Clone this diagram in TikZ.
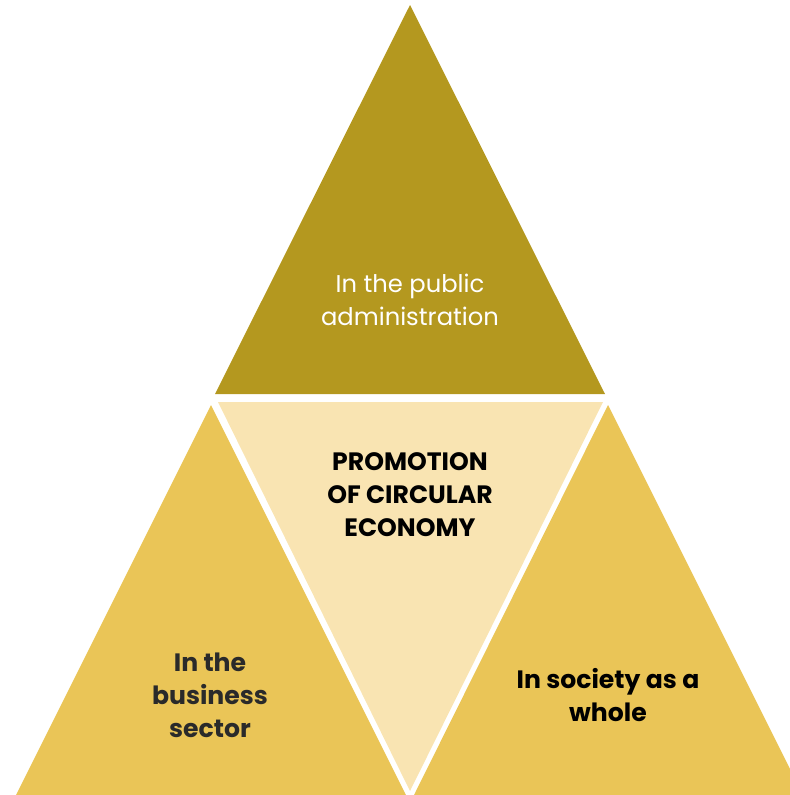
\documentclass[tikz,border=0pt]{standalone}
\usepackage{fontspec}
\setmainfont{Poppins}
\definecolor{darkgold}{HTML}{B4981F}
\definecolor{midgold}{HTML}{EAC557}
\definecolor{palegold}{HTML}{F9E4B2}
\definecolor{inkgrey}{HTML}{2A2A2A}
\begin{document}
\begin{tikzpicture}[
       x=0.02cm, y=-0.02cm,
       tri/.style={draw=none},
       lightlabel/.style={align=center, text=white, font=\fontsize{13.8}{18.8}\selectfont},
       darklabel/.style={align=center, text=black, font=\fontsize{14.3}{18.8}\selectfont\bfseries}
   ]
   \useasboundingbox (0,0) rectangle (790,795);
   \clip (0,0) rectangle (790,795);
   % corners of the four triangles
   \coordinate (top apex) at (410,5);
   \coordinate (top left) at (215,394);
   \coordinate (top right) at (605,394);
   \coordinate (mid left) at (218,402);
   \coordinate (mid right) at (603,402);
   \coordinate (mid apex) at (410,791);
   \coordinate (left apex) at (211,405);
   \coordinate (left base l) at (16,795);
   \coordinate (left base r) at (406,795);
   \coordinate (right apex) at (608,405);
   \coordinate (right base l) at (414,795);
   \coordinate (right base r) at (803,795);

   \fill[darkgold, tri] (top apex) -- (top left) -- (top right) -- cycle;
   \fill[palegold, tri] (mid left) -- (mid right) -- (mid apex) -- cycle;
   \fill[midgold, tri] (left apex) -- (left base l) -- (left base r) -- cycle;
   \fill[midgold, tri] (right apex) -- (right base l) -- (right base r) -- cycle;

   \node[lightlabel] (public) at (410,300) {In the public\\administration};
   \node[darklabel] (promotion) at (410,495) {PROMOTION\\OF CIRCULAR\\ECONOMY};
   \node[darklabel, text=inkgrey] (business) at (210,695) {In the\\business\\sector};
   \node[darklabel] (society) at (608,695) {In society as a\\whole};
\end{tikzpicture}
\end{document}
